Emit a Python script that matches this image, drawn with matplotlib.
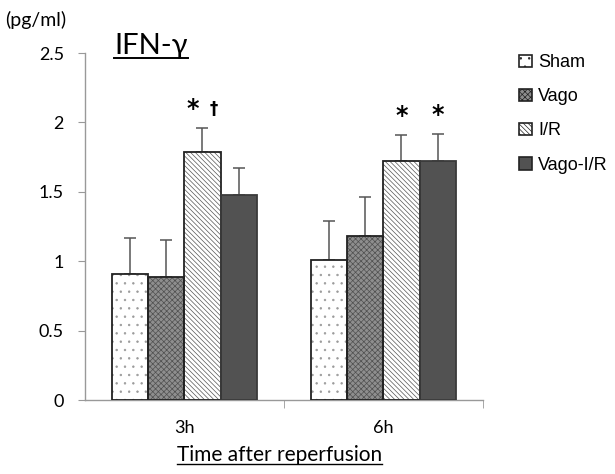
import numpy as np
import matplotlib.pyplot as plt

# data
times = ["3h", "6h"]
groups = ["Sham", "Vago", "I/R", "Vago-I/R"]
means = {
    "Sham":     [0.91, 1.01],
    "Vago":     [0.89, 1.18],
    "I/R":      [1.79, 1.72],
    "Vago-I/R": [1.48, 1.72],
}
errs = {
    "Sham":     [0.26, 0.28],
    "Vago":     [0.26, 0.28],
    "I/R":      [0.17, 0.19],
    "Vago-I/R": [0.19, 0.20],
}
# significance marks: (group, time index, symbol, x offset in bar units)
sig_marks = [
    ("I/R", 0, "*", -0.05),
    ("I/R", 0, "\u2020", 0.055),
    ("I/R", 1, "*", 0.0),
    ("Vago-I/R", 1, "*", 0.0),
]

styles = {
    "Sham":     dict(face="white",   hatch="..",      hcol="#9a9a9a"),
    "Vago":     dict(face="#8e8e8e", hatch="xxxxxx",  hcol="#505050"),
    "I/R":      dict(face="white",   hatch="\\\\\\\\\\\\\\", hcol="#555555"),
    "Vago-I/R": dict(face="#525252", hatch=None,      hcol="#525252"),
}

plt.rcParams["font.family"] = ["Lato", "DejaVu Sans"]
plt.rcParams["hatch.linewidth"] = 0.5

fig = plt.figure(figsize=(6.15, 4.74), dpi=100)
ax = fig.add_axes([0.138, 0.156, 0.647, 0.732])

x = np.arange(len(times))
w = 0.182
handles = []
for i, g in enumerate(groups):
    st = styles[g]
    pos = x + (i - 1.5) * w
    ax.bar(pos, means[g], w, color=st["face"], hatch=st["hatch"],
           edgecolor=st["hcol"], linewidth=0, zorder=2)
    ax.bar(pos, means[g], w, fill=False,
           edgecolor="#222222" if g != "Vago-I/R" else "#3a3a3a",
           linewidth=1.3, zorder=3)
    ax.errorbar(pos, means[g], yerr=[np.zeros(len(times)), errs[g]],
                fmt="none", ecolor="#555555", elinewidth=1.1, capsize=4,
                capthick=1.1, zorder=1)
    handles.append(plt.Rectangle((0, 0), 1, 1, facecolor=st["face"],
                                 hatch=st["hatch"], edgecolor="#222222",
                                 linewidth=1.2))

for g, j, m, off in sig_marks:
    i = groups.index(g)
    xp = x[j] + (i - 1.5) * w + off
    top = means[g][j] + errs[g][j]
    if m == "*":
        ax.text(xp, top + 0.05, m, ha="center", va="bottom", fontsize=17,
                fontweight="bold", family=["DejaVu Sans"])
    else:
        ax.text(xp, top + 0.075, m, ha="center", va="bottom", fontsize=12,
                fontweight="bold", family=["DejaVu Sans"])

ax.set_xlim(-0.5, 1.5)
ax.set_ylim(0, 2.5)
ax.set_yticks([0, 0.5, 1, 1.5, 2, 2.5])
ax.set_yticklabels(["0", "0.5", "1", "1.5", "2", "2.5"])
ax.set_xticks(x)
ax.set_xticklabels(times)
ax.set_xticks([0.5, 1.5], minor=True)
ax.tick_params(axis="x", which="major", length=0, pad=14, labelsize=13)
ax.tick_params(axis="x", which="minor", length=6, color="#999999", direction="out")
ax.tick_params(axis="y", length=5, color="#999999", labelsize=13, pad=10)
for s in ["top", "right"]:
    ax.spines[s].set_visible(False)
for s in ["left", "bottom"]:
    ax.spines[s].set_color("#999999")
    ax.spines[s].set_linewidth(1.0)

fig.text(0.008, 0.957, "(pg/ml)", fontsize=14, ha="left", va="center")

t1 = fig.text(0.186, 0.903, "IFN-\u03b3", fontsize=21, ha="left", va="center")
t2 = fig.text(0.455, 0.04, "Time after reperfusion", fontsize=15,
              ha="center", va="center")

leg = fig.legend(handles, groups, loc="upper left", bbox_to_anchor=(0.818, 0.92),
                 frameon=False, handlelength=0.7, handleheight=0.7,
                 handletextpad=0.35, labelspacing=0.95,
                 prop={"family": ["Liberation Sans"], "size": 13})

# underline the title and the axis label
fig.canvas.draw()
r = fig.canvas.get_renderer()
for t, lw in [(t1, 1.4), (t2, 1.0)]:
    bb = t.get_window_extent(r).transformed(fig.transFigure.inverted())
    fig.add_artist(plt.Line2D([bb.x0, bb.x1], [bb.y0 + 0.003, bb.y0 + 0.003],
                              transform=fig.transFigure, color="black", lw=lw))

fig.savefig("out.png", dpi=100)
